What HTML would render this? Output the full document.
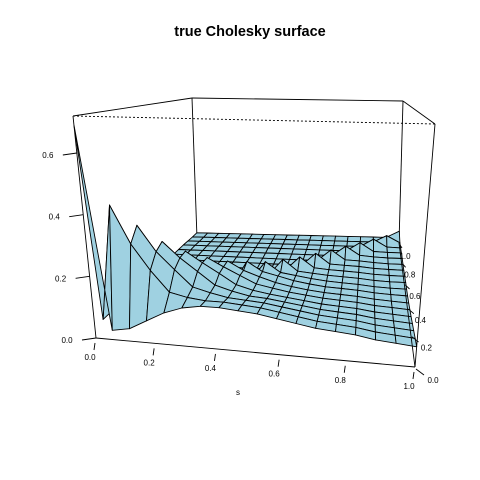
<!DOCTYPE html>
<html><head><meta charset="utf-8"><style>
html,body{margin:0;padding:0;background:#fff}
svg{display:block}
text{font-family:"Liberation Sans",Arial,sans-serif}
</style></head><body>
<svg id="chart" width="480" height="480" viewBox="0 0 480 480">
<text x="250" y="36" text-anchor="middle" font-size="14.5" font-weight="bold">true Cholesky surface</text>
<g id="box-back"></g>
<g id="surface"></g>
<g id="box-front"></g>
<g id="axes"></g>
</svg>
<script>
// grid resolution along s and t
const N = 17;
// diagonal (ridge) values z(t_j, t_j)
const ridge = [0.69,0.42,0.34,0.27,0.22,0.18,0.15,0.13,0.11,0.10,0.09,0.085,0.08,0.075,0.07,0.065,0.06,0.06];
// spread of ridge excess below the diagonal by lag d = i - j
const decay = [1,0.8,0.45,0.15,0.05,0,0,0,0,0,0,0,0,0,0,0,0,0];
// base level of the region below the diagonal, by s index (front row)
const frontRow = [0.69,0.03,0.04,0.07,0.10,0.12,0.13,0.13,0.125,0.12,0.11,0.10,0.09,0.085,0.08,0.07,0.065,0.06];
// relative level of rows behind the front, by t index
const rowFactor = [1,0.95,0.88,0.8,0.72,0.66,0.6,0.56,0.52,0.5,0.48,0.47,0.46,0.46,0.45,0.45,0.45,0.45];
// values above the diagonal, by t index
const backLevel = [0.035,0.035,0.035,0.035,0.035,0.035,0.035,0.035,0.034,0.033,0.032,0.031,0.03,0.03,0.03,0.028,0.027,0.027];
// axis tick labels
const zTicks = [0.0,0.2,0.4,0.6];
const sTicks = [0.0,0.2,0.4,0.6,0.8,1.0];
const tTicks = [0.0,0.2,0.4,0.6,0.8,1.0];
const ZMAX = 0.72;

const NS='http://www.w3.org/2000/svg';
const B={p00:[96,338],p10:[415,367],p01:[197,238],p11:[399,243]};
const T={p00:[73,116],p10:[435,124],p01:[192,98],p11:[403,101]};
function warpS(s){return 0.91*s/(1-0.09*s);}
function warpT(t){return 1.41*t/(1+0.41*t);}
function bil(Q,s,t){
  const x=(1-s)*(1-t)*Q.p00[0]+s*(1-t)*Q.p10[0]+(1-s)*t*Q.p01[0]+s*t*Q.p11[0];
  const y=(1-s)*(1-t)*Q.p00[1]+s*(1-t)*Q.p10[1]+(1-s)*t*Q.p01[1]+s*t*Q.p11[1];
  return [x,y];
}
function proj(s,t,z){
  const ss=warpS(s),tt=warpT(t);
  const b=bil(B,ss,tt),u=bil(T,ss,tt),f=z/ZMAX;
  return [b[0]+(u[0]-b[0])*f,b[1]+(u[1]-b[1])*f];
}
function zval(i,j){
  if(j===0) return frontRow[i];
  if(i===j) return ridge[j];
  if(j<i) return Math.max(backLevel[j], frontRow[i]*rowFactor[j]+Math.max(0,ridge[j]-0.1)*decay[i-j]);
  return backLevel[j];
}
function line(g,a,b,name,dash){
  const l=document.createElementNS(NS,'line');
  l.setAttribute('x1',a[0]);l.setAttribute('y1',a[1]);l.setAttribute('x2',b[0]);l.setAttribute('y2',b[1]);
  l.setAttribute('stroke','#000');l.setAttribute('stroke-width','0.9');
  if(dash) l.setAttribute('stroke-dasharray',dash);
  
  
  g.appendChild(l);
}
function text(g,x,y,str,name){
  const t=document.createElementNS(NS,'text');
  t.setAttribute('x',x);t.setAttribute('y',y);t.setAttribute('font-size','8');t.setAttribute('text-anchor','middle');
  t.textContent=str;
  
  
  g.appendChild(t);
}
const back=document.getElementById('box-back');
line(back,B.p01,T.p01,'box-edge');
line(back,B.p11,T.p11,'box-edge');
line(back,T.p01,T.p11,'box-edge');
line(back,T.p00,T.p10,'box-edge-hidden','2,2');

const surf=document.getElementById('surface');
const cells=[];
for(let j=0;j<N;j++)for(let i=0;i<N;i++)cells.push([i,j]);
cells.sort((a,b)=> (b[1]-a[1]) || (a[0]-b[0]));
cells.forEach(([i,j])=>{
  const pts=[[i,j],[i+1,j],[i+1,j+1],[i,j+1]].map(([a,b])=>proj(a/N,b/N,zval(a,b)));
  const p=document.createElementNS(NS,'polygon');
  p.setAttribute('points',pts.map(q=>q[0].toFixed(1)+','+q[1].toFixed(1)).join(' '));
  p.setAttribute('fill','#9fd1e1');p.setAttribute('stroke','#000');p.setAttribute('stroke-width','0.9');
  p.setAttribute('stroke-linejoin','round');
  
  
  surf.appendChild(p);
});

const front=document.getElementById('box-front');
line(front,B.p00,T.p00,'box-edge');
line(front,B.p10,T.p10,'box-edge');
line(front,T.p00,T.p01,'box-edge');
line(front,T.p10,T.p11,'box-edge');
line(front,B.p00,B.p10,'box-edge');
line(front,B.p10,B.p11,'box-edge');

const ax=document.getElementById('axes');
zTicks.forEach(z=>{
  const p=proj(0,0,z);
  line(ax,[p[0]-14,p[1]+2],[p[0],p[1]],'z-tick');
  text(ax,p[0]-29,p[1]+5,z.toFixed(1),'z-tick-label');
});
sTicks.forEach(s=>{
  const p=proj(s,0,0);
  line(ax,[p[0]-1,p[1]+5],[p[0]-2,p[1]+12],'s-tick');
  text(ax,p[0]-6,p[1]+22,s.toFixed(1),'s-tick-label');
});
text(ax,238,395,'s','s-axis-title');
tTicks.forEach(t=>{
  const p=proj(1,t,0);
  const dx=6+12*(1-t);
  line(ax,[p[0]+1,p[1]+2],[p[0]+dx*0.5,p[1]+5+3*(1-t)],'t-tick');
  text(ax,p[0]+dx,p[1]+16,t.toFixed(1),'t-tick-label');
});
</script>
</body></html>
